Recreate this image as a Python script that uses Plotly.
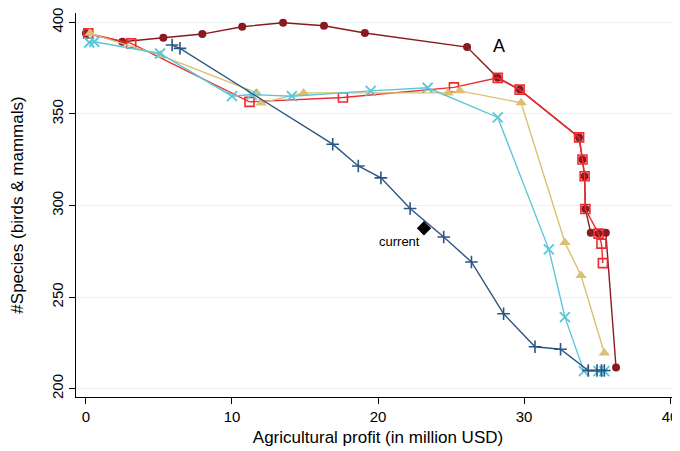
import plotly.graph_objects as go

# ---- data ----
maroon_x = [0.0, 2.49, 5.3, 7.97, 10.7, 13.5, 16.3, 19.1, 26.1, 28.2, 29.7, 33.77, 34.0, 34.15, 34.2, 34.57, 35.1, 35.6, 36.3]
maroon_y = [394.0, 389.4, 391.6, 393.6, 397.6, 399.8, 398.1, 394.2, 386.5, 369.7, 363.3, 337.2, 325.1, 316.0, 298.1, 285.2, 284.7, 285.2, 211.6]

red_x = [0.16, 3.1, 11.2, 17.6, 25.2, 28.2, 29.7, 33.77, 34.0, 34.15, 34.2, 35.1, 35.3, 35.4]
red_y = [394.0, 388.5, 356.6, 359.0, 364.5, 369.7, 363.3, 337.2, 325.1, 316.0, 298.1, 284.7, 279.2, 268.6]

sand_x = [0.27, 5.1, 11.7, 12.0, 14.9, 24.8, 25.6, 29.8, 32.8, 33.9, 35.5]
sand_y = [394.0, 382.0, 361.5, 356.0, 361.5, 361.5, 362.6, 356.1, 279.8, 261.8, 219.5]

cyan_x = [0.23, 0.57, 5.07, 10.0, 11.35, 14.1, 19.5, 23.4, 28.2, 31.7, 32.8, 34.1, 35.1, 35.5]
cyan_y = [389.0, 389.4, 383.0, 359.7, 360.6, 359.7, 362.6, 364.3, 348.1, 276.1, 239.1, 209.6, 209.6, 209.6]

navy_x = [5.9, 6.44, 16.9, 18.65, 20.2, 22.2, 24.5, 26.4, 28.6, 30.75, 32.5, 34.4, 35.0, 35.3, 35.5]
navy_y = [387.6, 385.8, 333.5, 321.6, 315.1, 298.4, 282.8, 269.2, 240.9, 222.9, 221.6, 210.0, 210.0, 210.0, 210.0]

current_x = [23.15]
current_y = [287.6]
current_label = "current"
current_label_x = 21.5
current_label_y = 280.3

label_a = "A"
label_a_x = 28.3
label_a_y = 387.0

x_ticks = [0, 10, 20, 30, 40]
y_ticks = [200, 250, 300, 350, 400]

# ---- figure ----
MAROON = "#8a1a1f"
RED = "#ee2a2f"
SAND = "#dcc071"
CYAN = "#5cc6d9"
NAVY = "#2c5682"
FONT = "Liberation Sans, Arial"

fig = go.Figure()

fig.add_trace(go.Scatter(x=maroon_x, y=maroon_y, mode="lines+markers",
                         line=dict(color=MAROON, width=1.4),
                         marker=dict(symbol="circle", size=8, color=MAROON)))
fig.add_trace(go.Scatter(x=red_x, y=red_y, mode="lines+markers",
                         line=dict(color=RED, width=1.4),
                         marker=dict(symbol="square-open", size=9, color=RED,
                                     line=dict(width=1.6, color=RED))))
fig.add_trace(go.Scatter(x=sand_x, y=sand_y, mode="lines+markers",
                         line=dict(color=SAND, width=1.4),
                         marker=dict(symbol="triangle-up", size=10, color=SAND)))
fig.add_trace(go.Scatter(x=cyan_x, y=cyan_y, mode="lines+markers",
                         line=dict(color=CYAN, width=1.4),
                         marker=dict(symbol="x-thin", size=10, color=CYAN,
                                     line=dict(width=1.8, color=CYAN))))
fig.add_trace(go.Scatter(x=navy_x, y=navy_y, mode="lines+markers",
                         line=dict(color=NAVY, width=1.4),
                         marker=dict(symbol="cross-thin", size=9, color=NAVY,
                                     line=dict(width=1.6, color=NAVY))))
fig.add_trace(go.Scatter(x=current_x, y=current_y, mode="markers",
                         marker=dict(symbol="diamond", size=11, color="black")))

fig.add_annotation(x=current_label_x, y=current_label_y, text=current_label,
                   showarrow=False,
                   font=dict(family=FONT, size=13, color="black"))
fig.add_annotation(x=label_a_x, y=label_a_y, text=label_a, showarrow=False,
                   font=dict(family=FONT, size=18, color="black"))

# the page body adds an 8px offset, so the figure is sized 8px smaller
fig.update_layout(
    width=672, height=443,
    margin=dict(l=68, r=0, t=5, b=54),
    paper_bgcolor="white", plot_bgcolor="white",
    showlegend=False,
    font=dict(family=FONT, size=14, color="black"),
    xaxis=dict(range=[-0.68, 40.68], tickvals=x_ticks, showgrid=False, zeroline=False,
               automargin=False, ticklabeloverflow="allow",
               showline=True, linecolor="black", linewidth=1.3,
               ticks="outside", ticklen=6, tickwidth=1.2, tickcolor="black",
               tickfont=dict(size=15),
               title=dict(text="Agricultural profit (in million USD)", standoff=6,
                          font=dict(size=17))),
    yaxis=dict(range=[195.5, 405.1], tickvals=y_ticks, showgrid=True,
               gridcolor="#e8f3f4", gridwidth=1, zeroline=False,
               automargin=False, ticklabeloverflow="allow",
               showline=True, linecolor="black", linewidth=1.3,
               ticks="outside", ticklen=6, tickwidth=1.2, tickcolor="black",
               tickangle=-90, tickfont=dict(size=15),
               title=dict(text="#Species (birds & mammals)", standoff=20,
                          font=dict(size=17))),
)

fig.write_html("out.html")
